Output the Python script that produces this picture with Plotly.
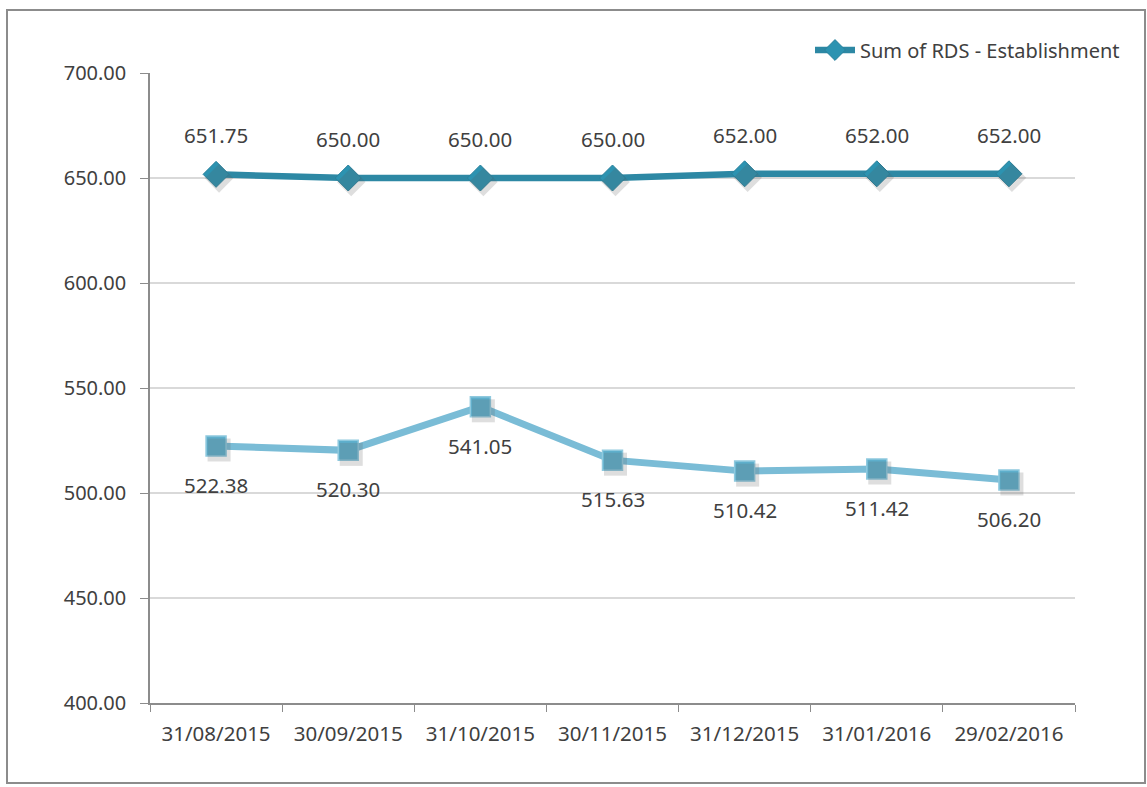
import plotly.graph_objects as go

# Month-end dates and the two RDS series
dates = ["31/08/2015", "30/09/2015", "31/10/2015", "30/11/2015",
         "31/12/2015", "31/01/2016", "29/02/2016"]
establishment = [651.75, 650.00, 650.00, 650.00, 652.00, 652.00, 652.00]
actual = [522.38, 520.30, 541.05, 515.63, 510.42, 511.42, 506.20]
y_ticks = [400, 450, 500, 550, 600, 650, 700]

FONT = "Noto Sans"
DARK = "#2D88A4"
DARK_MK = "#2C93B1"
LIGHT = "#7ABCD6"
SQUARE = "#5EAFCC"
TEXT = "#404040"

W, H = 1147, 787
L, R, T, B = 150, 72, 73, 84
pw, ph = W - L - R, H - T - B

fig = go.Figure()

# soft drop shadows under the markers, drawn on slightly offset overlay axes
shadow = "rgba(90,90,90,0.2)"
fig.add_trace(go.Scatter(x=dates, y=actual, mode="markers", xaxis="x2", yaxis="y2",
                         marker=dict(symbol="square", size=23, color=shadow, line=dict(width=0)),
                         showlegend=False, hoverinfo="skip"))
fig.add_trace(go.Scatter(x=dates, y=establishment, mode="markers", xaxis="x2", yaxis="y2",
                         marker=dict(symbol="diamond", size=22, color=shadow, line=dict(width=0)),
                         showlegend=False, hoverinfo="skip"))

fig.add_trace(go.Scatter(
    x=dates, y=actual, mode="lines+markers", showlegend=False,
    line=dict(color=LIGHT, width=7),
    marker=dict(symbol="square", size=20, color=SQUARE, line=dict(color="#8FC9DE", width=1.5)),
))
fig.add_trace(go.Scatter(
    x=dates, y=establishment, mode="lines+markers", name="Sum of RDS - Establishment",
    line=dict(color=DARK, width=6.5),
    marker=dict(symbol="diamond", size=20, color=DARK_MK, line=dict(color="#2A819C", width=1)),
))

# value labels
for d, v in zip(dates, establishment):
    fig.add_annotation(x=d, y=v, text=f"{v:.2f}", showarrow=False, yshift=39,
                       font=dict(family=FONT, size=20.5, color=TEXT))
for d, v in zip(dates, actual):
    fig.add_annotation(x=d, y=v, text=f"{v:.2f}", showarrow=False, yshift=-39,
                       font=dict(family=FONT, size=20.5, color=TEXT))

# outer chart border
def px_x(p):
    return (p - L) / pw

def px_y(p):
    return (H - B - p) / ph

fig.add_shape(type="rect", xref="paper", yref="paper",
              x0=px_x(7), x1=px_x(1145), y0=px_y(783), y1=px_y(10),
              line=dict(color="#8C8C8C", width=2), fillcolor="rgba(0,0,0,0)", layer="below")

dx = 3 / (pw / 7)
dy = 4 / (ph / 300)
fig.update_layout(
    width=W, height=H,
    margin=dict(l=L, r=R, t=T, b=B),
    paper_bgcolor="white", plot_bgcolor="white",
    font=dict(family=FONT, size=20, color="#595959"),
    xaxis=dict(type="category", range=[-0.5, 6.5], showgrid=False,
               showline=True, linecolor="#8C8C8C", linewidth=1.5,
               ticks="outside", tickson="boundaries", ticklen=7, tickcolor="#8C8C8C",
               tickfont=dict(family=FONT, size=20.5, color=TEXT), ticklabelstandoff=12),
    yaxis=dict(range=[400, 700], tickvals=y_ticks, ticktext=[f"{v:.2f}" for v in y_ticks],
               showgrid=True, gridcolor="#D9D9D9", gridwidth=1.5,
               showline=True, linecolor="#8C8C8C", linewidth=1.5,
               ticks="outside", ticklen=8, tickcolor="#8C8C8C",
               tickfont=dict(family=FONT, size=20, color=TEXT), ticklabelstandoff=10,
               zeroline=False),
    xaxis2=dict(type="category", overlaying="x", range=[-0.5 - dx, 6.5 - dx],
                visible=False, showgrid=False),
    yaxis2=dict(overlaying="y", range=[400 + dy, 700 + dy], visible=False, showgrid=False),
    legend=dict(x=px_x(1125), xanchor="right", y=px_y(50), yanchor="middle",
                font=dict(family=FONT, size=20, color=TEXT), bgcolor="rgba(0,0,0,0)",
                itemwidth=40),
    showlegend=True,
)

fig.write_html("out.html")
